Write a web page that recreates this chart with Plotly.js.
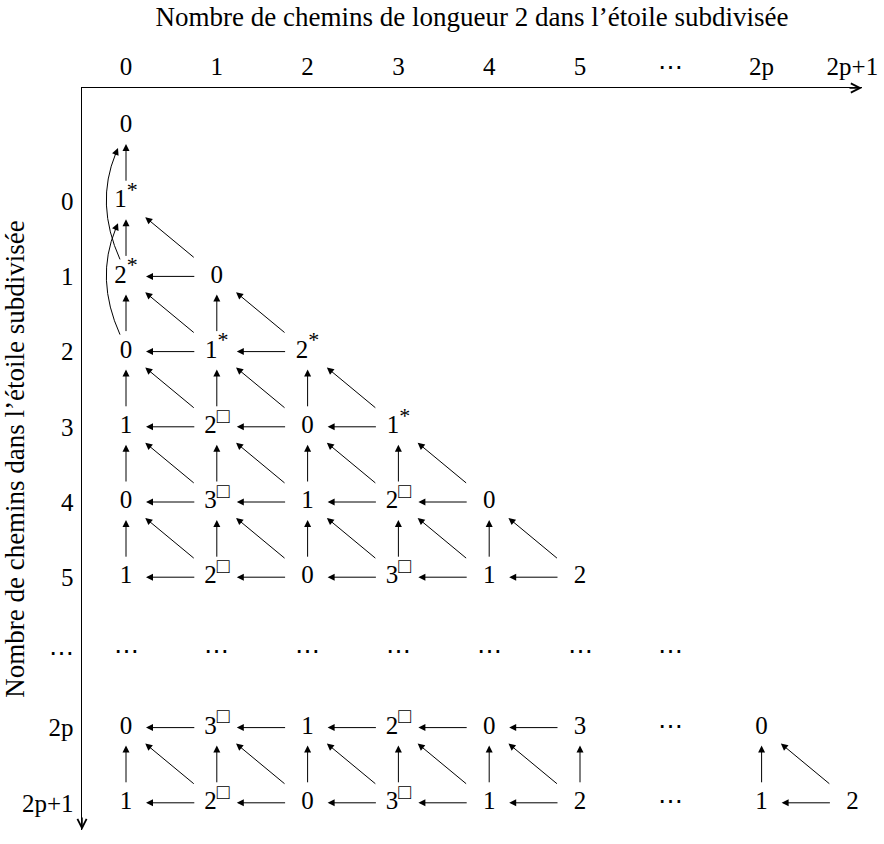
<!DOCTYPE html>
<html>
<head>
<meta charset="utf-8">
<script src="https://cdn.plot.ly/plotly-3.0.1.min.js"></script>
<style>html,body{margin:0;padding:0;background:#fff;}</style>
</head>
<body>
<div id="chart" style="width:884px;height:844px;"></div>
<script>
// ---- data ----
const colLabels = ['0', '1', '2', '3', '4', '5', '⋯', '2p', '2p+1'];
const rowLabels = ['0', '1', '2', '3', '4', '5', '⋯', '2p', '2p+1']; // rows 1..9 (row 0 = unlabeled top node)
const nodeRows = [
  ['0'],
  ['1*'],
  ['2*', '0'],
  ['0', '1*', '2*'],
  ['1', '2□', '0', '1*'],
  ['0', '3□', '1', '2□', '0'],
  ['1', '2□', '0', '3□', '1', '2'],
  ['⋯', '⋯', '⋯', '⋯', '⋯', '⋯', '⋯'],
  ['0', '3□', '1', '2□', '0', '3', '⋯', '0'],
  ['1', '2□', '0', '3□', '1', '2', '⋯', '1', '2']
];
const loopEdges = [[2, 0, 0, 0], [3, 0, 1, 0]]; // [fromRow, fromCol, toRow, toCol]
const xTitle = 'Nombre de chemins de longueur 2 dans l\u2019étoile subdivisée';
const yTitle = 'Nombre de chemins dans l\u2019étoile subdivisée';

// ---- layout constants ----
const FONT = 'Liberation Serif, Times New Roman, serif';
const PX_X = 90.8, PX_Y = 75.2;
const L = 82, T = 88, R = 22, B = 14, W = 884, H = 844;
const x0 = -(126 - L) / PX_X, x1 = x0 + (W - L - R) / PX_X;
const y0 = -(126 - T) / PX_Y, y1 = y0 + (H - T - B) / PX_Y;

function isNode(r, c) {
  const row = nodeRows[r];
  return row && c >= 0 && c < row.length && row[c] && row[c] !== '⋯';
}
function fmt(s) {
  if (s === '⋯' || s.length < 2) return s;
  const mark = s.slice(1);
  const size = mark === '*' ? 22 : 21;
  return s[0] + '<sup><span style="font-size:' + size + 'px;color:#000000">' + mark + '</span></sup>';
}

const tx = [], ty = [], tt = [];
nodeRows.forEach((row, r) => row.forEach((s, c) => { tx.push(c); ty.push(r); tt.push(fmt(s)); }));

const annotations = [];
function arrow(fr, fc, tr, tc, head, tail) {
  annotations.push({
    x: tc, y: tr, ax: fc, ay: fr, xref: 'x', yref: 'y', axref: 'x', ayref: 'y',
    text: '', showarrow: true, arrowhead: 2, arrowsize: 1.4, arrowwidth: 1,
    arrowcolor: '#000', standoff: head, startstandoff: tail
  });
}
nodeRows.forEach((row, r) => row.forEach((s, c) => {
  if (!isNode(r, c)) return;
  if (isNode(r, c - 1)) arrow(r, c, r, c - 1, 20, 21);        // horizontal
  if (isNode(r - 1, c)) arrow(r, c, r - 1, c, 18, 19);        // vertical
  if (isNode(r - 1, c - 1)) arrow(r, c, r - 1, c - 1, 25, 28); // diagonal
}));

const shapes = [];
loopEdges.forEach(([fr, fc, tr, tc]) => {
  const sx = fc - 6 / PX_X, sy = fr - 17 / PX_Y;
  const ex = tc - 8 / PX_X, ey = tr + 22 / PX_Y;
  const cx = (sx + ex) / 2 - 24 / PX_X, cy = (sy + ey) / 2;
  let dxp = (ex - cx) * PX_X, dyp = (ey - cy) * PX_Y;
  const n = Math.hypot(dxp, dyp); dxp /= n; dyp /= n;
  const hx = ex - 6 * dxp / PX_X, hy = ey - 6 * dyp / PX_Y;
  shapes.push({
    type: 'path', xref: 'x', yref: 'y',
    path: `M ${sx},${sy} Q ${cx},${cy} ${hx},${hy}`,
    line: { color: '#000', width: 1 }
  });
  annotations.push({
    x: ex, y: ey, ax: ex - 9 * dxp / PX_X, ay: ey - 9 * dyp / PX_Y,
    xref: 'x', yref: 'y', axref: 'x', ayref: 'y', text: '', showarrow: true,
    arrowhead: 2, arrowsize: 1.4, arrowwidth: 1, arrowcolor: '#000', standoff: 0
  });
});

// axis arrowheads
annotations.push({ x: 1, y: 1, xref: 'paper', yref: 'paper', ax: -14, ay: 0, text: '', showarrow: true,
  arrowhead: 5, arrowsize: 1.2, arrowwidth: 1.5, arrowcolor: '#000', standoff: 0 });
annotations.push({ x: 0, y: 0, xref: 'paper', yref: 'paper', ax: 0, ay: -14, text: '', showarrow: true,
  arrowhead: 5, arrowsize: 1.2, arrowwidth: 1.5, arrowcolor: '#000', standoff: 0 });

const trace = {
  type: 'scatter', mode: 'text', x: tx, y: ty, text: tt,
  textposition: 'middle center', cliponaxis: false,
  textfont: { family: FONT, size: 25, color: '#000' }, hoverinfo: 'skip', showlegend: false
};

const layout = {
  width: W, height: H, margin: { l: L, r: R, t: T, b: B },
  paper_bgcolor: '#fff', plot_bgcolor: '#fff', showlegend: false,
  font: { family: FONT, color: '#000' },
  xaxis: {
    range: [x0, x1], side: 'top', tickmode: 'array', tickvals: colLabels.map((_, i) => i), ticktext: colLabels,
    showgrid: false, zeroline: false, showline: true, linecolor: '#000', linewidth: 1.5, ticks: '',
    tickfont: { family: FONT, size: 25, color: '#000' }, ticklabelstandoff: 2, fixedrange: true,
    title: { text: xTitle, font: { family: FONT, size: 27, color: '#000' }, standoff: 18 }
  },
  yaxis: {
    range: [y1, y0], tickmode: 'array', tickvals: rowLabels.map((_, i) => i + 1), ticktext: rowLabels,
    showgrid: false, zeroline: false, showline: true, linecolor: '#000', linewidth: 1.5, ticks: '',
    tickfont: { family: FONT, size: 25, color: '#000' }, ticklabelstandoff: 2, fixedrange: true,
    title: { text: yTitle, font: { family: FONT, size: 27, color: '#000' }, standoff: 1 }
  },
  shapes: shapes, annotations: annotations
};
Plotly.newPlot('chart', [trace], layout, { displayModeBar: false, staticPlot: true });
</script>
</body>
</html>
